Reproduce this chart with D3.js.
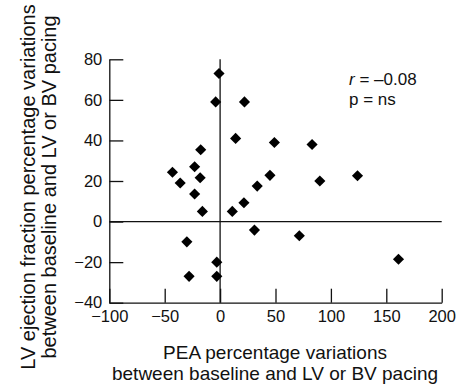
<!DOCTYPE html>
<html>
<head>
<meta charset="utf-8">
<script src="https://cdn.jsdelivr.net/npm/d3@7"></script>
<style>
  body { margin: 0; background: #fff; }
  svg { display: block; font-family: "Liberation Sans", Arial, sans-serif; }
</style>
</head>
<body>
<div id="wrapper"></div>
<script>
// PEA % variation (x) vs LV ejection fraction % variation (y)
const peaValues = [-1, -4, 22, 14, 49, 83, -17.5, -43, -23, -36, -18, 45, 33.5, -23,
  -16, 11, 21.5, 31, -30, -3, -28, -3, 71.5, 90, 124, 161];
const lvefValues = [73, 59, 59, 41, 39, 38, 35.4, 24.3, 27, 19, 21.6, 22.8, 17.5, 13.6,
  5, 5, 9.3, -4.2, -10, -20, -27, -27, -7, 20, 22.6, -18.6];
const xTicks = [-100, -50, 0, 50, 100, 150, 200];
const yTicks = [-40, -20, 0, 20, 40, 60, 80];
const statLines = ["= \u20130.08", "p = ns"];

const dataset = peaValues.map((v, i) => ({ pea: v, lvef: lvefValues[i] }));
const xAccessor = d => d.pea;
const yAccessor = d => d.lvef;

// Dimension
const dimension = {
  width: 458, height: 385,
  margin: { top: 59.3, bottom: 82.3, left: 109.3, right: 16.3 }
};
dimension.boundedWidth = dimension.width - dimension.margin.left - dimension.margin.right;
dimension.boundedHeight = dimension.height - dimension.margin.top - dimension.margin.bottom;

// Scales
const xScale = d3.scaleLinear().domain([-100, 200]).range([0, dimension.boundedWidth]);
const yScale = d3.scaleLinear().domain([-40, 80]).range([dimension.boundedHeight, 0]);

// Canvas
const wrapper = d3.select("#wrapper").append("svg")
  .attr("width", dimension.width).attr("height", dimension.height);
const bounded = wrapper.append("g")
  .attr("transform", `translate(${dimension.margin.left},${dimension.margin.top})`);

// Axes
const minusFmt = d => d < 0 ? "\u2212" + Math.abs(d) : d;
const xAxisGenerator = d3.axisBottom(xScale).tickValues(xTicks)
  .tickSizeInner(-14).tickSizeOuter(0).tickPadding(8).tickFormat(minusFmt);
const yAxisGenerator = d3.axisLeft(yScale).tickValues(yTicks)
  .tickSizeInner(-14).tickSizeOuter(0).tickPadding(7).tickFormat(minusFmt);

const xAxis = bounded.append("g").attr("transform", `translate(0,${dimension.boundedHeight})`)
  .call(xAxisGenerator);
const yAxis = bounded.append("g").call(yAxisGenerator);
[xAxis, yAxis].forEach(ax => {
  ax.selectAll("path, line").attr("stroke", "#111").attr("stroke-width", 1.3);
  ax.selectAll("text").attr("fill", "#111").attr("font-size", "16.5px")
    .attr("font-family", "Liberation Sans, Arial, sans-serif");
});

// zero lines
bounded.append("line")
  .attr("x1", 0).attr("x2", dimension.boundedWidth)
  .attr("y1", yScale(0)).attr("y2", yScale(0))
  .attr("stroke", "#111").attr("stroke-width", 1.3);
bounded.append("line")
  .attr("x1", xScale(0)).attr("x2", xScale(0))
  .attr("y1", 0).attr("y2", dimension.boundedHeight)
  .attr("stroke", "#111").attr("stroke-width", 1.3);

// Points (diamonds)
const diamond = d3.symbol().type(d3.symbolSquare).size(62);
bounded.selectAll(".pt").data(dataset).enter().append("path")
  .attr("class", "pt")
  .attr("d", diamond)
  .attr("transform", d => `translate(${xScale(xAccessor(d))},${yScale(yAccessor(d))}) rotate(45)`)
  .attr("fill", "#000");

// r / p annotation
const stat = wrapper.append("text").attr("font-size", "17px").attr("fill", "#111");
stat.append("tspan").attr("x", 349).attr("y", 85).attr("font-style", "italic").text("r ");
stat.append("tspan").text(statLines[0]);
wrapper.append("text").attr("font-size", "17px").attr("fill", "#111")
  .attr("x", 349).attr("y", 105).text(statLines[1]);

// Axis titles
const xTitle = wrapper.append("text").attr("text-anchor", "middle")
  .attr("font-size", "19px").attr("fill", "#111");
xTitle.append("tspan").attr("x", 275).attr("y", 359).text("PEA percentage variations");
xTitle.append("tspan").attr("x", 275).attr("y", 380).text("between baseline and LV or BV pacing");

const yTitle = wrapper.append("text").attr("text-anchor", "middle")
  .attr("font-size", "20px").attr("fill", "#111")
  .attr("transform", "translate(35,187) rotate(-90)");
yTitle.append("tspan").attr("x", 0).attr("y", 0).text("LV ejection fraction percentage variations");
yTitle.append("tspan").attr("x", 0).attr("y", 21).text("between baseline and LV or BV pacing");
</script>
</body>
</html>
